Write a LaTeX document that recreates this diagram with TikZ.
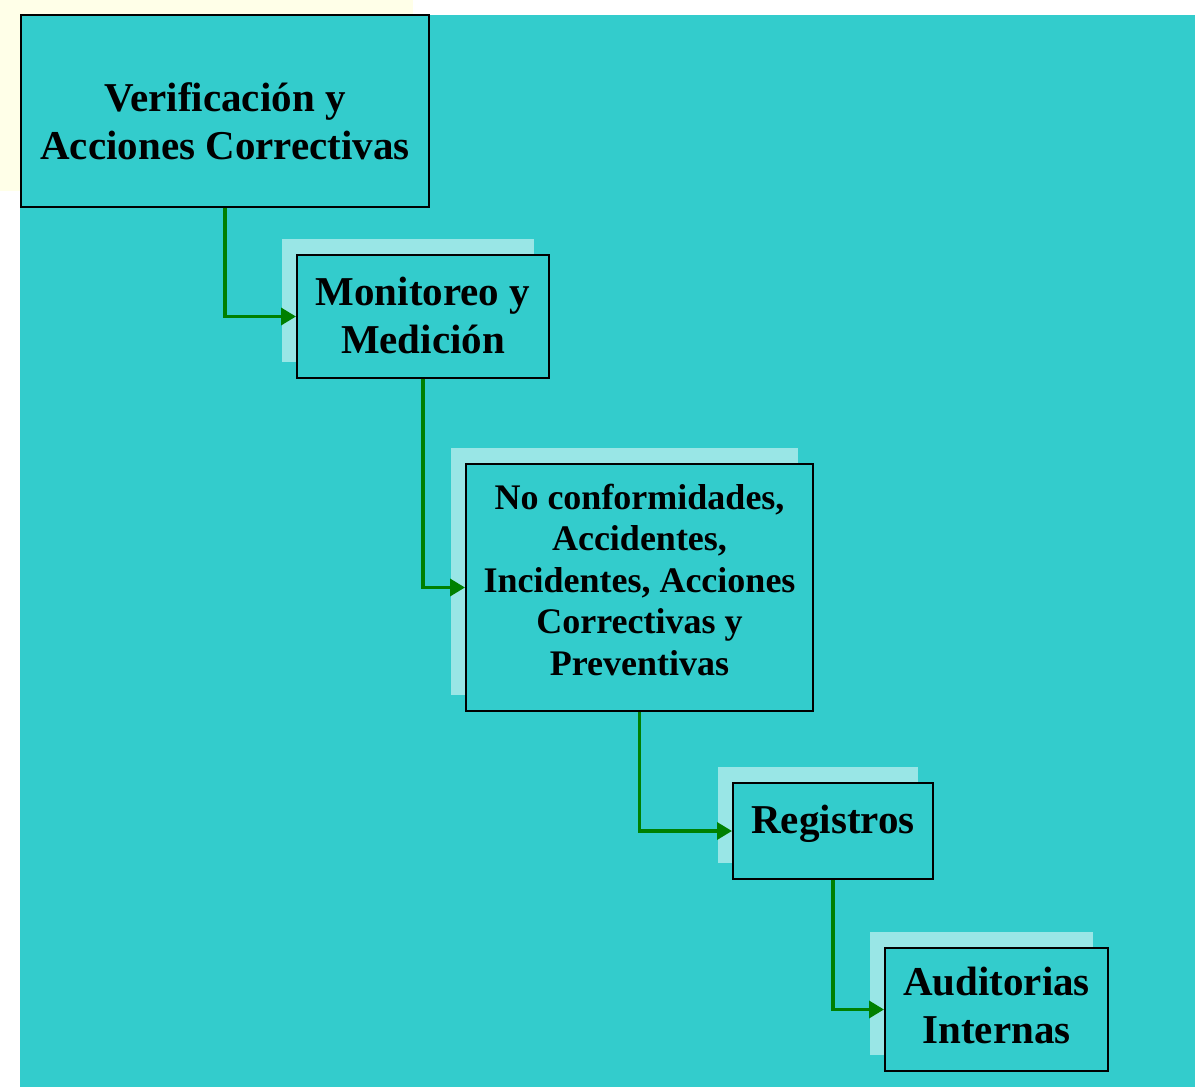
\documentclass[tikz,border=0pt]{standalone}
\usepackage{fontspec}
\setmainfont{Liberation Serif}
\usepackage{tikz}
\usetikzlibrary{arrows.meta,shadows}
\definecolor{fondo}{RGB}{51,204,204}
\definecolor{sombra}{RGB}{153,230,230}
\definecolor{crema}{RGB}{255,255,232}
\definecolor{verde}{RGB}{0,128,0}
\newcommand{\bloque}[3]{\raisebox{0pt}[\dimexpr\height+#1\relax][\dimexpr\depth+#2\relax]{\begin{tabular}{@{}c@{}}#3\end{tabular}}}

\begin{document}
\begin{tikzpicture}[
    x=0.5pt, y=-0.5pt,
    caja/.style={draw=black, line width=1pt, fill=fondo, align=center, inner sep=0pt,
      font=\bfseries\fontsize{20.5}{24}\selectfont},
    sombreada/.style={caja, general shadow={fill=sombra, shadow xshift=-7.5pt, shadow yshift=8pt}},
    flecha/.style={draw=verde, line width=1.75pt, -{Triangle[length=7.5pt,width=8.5pt]}},
  ]
  \useasboundingbox (0,0) rectangle (1195,1087);
  \fill[crema] (0,0) rectangle (413,191);
  \fill[fondo] (20,15) rectangle (1195,1087);

  \node[caja, minimum width=204pt, minimum height=96pt] (verif) at (225,111)
    {\bloque{15pt}{0pt}{Verificación y\\Acciones Correctivas}};
  \node[sombreada, minimum width=126pt, minimum height=61.5pt] (monit) at (423,316.5)
    {\bloque{3pt}{0pt}{Monitoreo y\\Medición}};
  \node[sombreada, minimum width=173.5pt, minimum height=123.5pt,
    font=\bfseries\fontsize{18}{20.7}\selectfont] (noconf) at (639.5,587.5)
    {\bloque{0pt}{3.5pt}{No conformidades,\\Accidentes,\\Incidentes, Acciones\\Correctivas y\\Preventivas}};
  \node[sombreada, minimum width=100pt, minimum height=48pt] (regis) at (833,831)
    {\bloque{0pt}{7.5pt}{Registros}};
  \node[sombreada, minimum width=111.5pt, minimum height=61.5pt] (audit) at (996.5,1009.5)
    {\bloque{0pt}{0pt}{Auditorias\\Internas}};

  \draw[flecha] (verif.south) |- (monit.west);
  \draw[flecha] (monit.south) |- (noconf.west);
  \draw[flecha] (noconf.south) |- (regis.west);
  \draw[flecha] (regis.south) |- (audit.west);
\end{tikzpicture}
\end{document}
